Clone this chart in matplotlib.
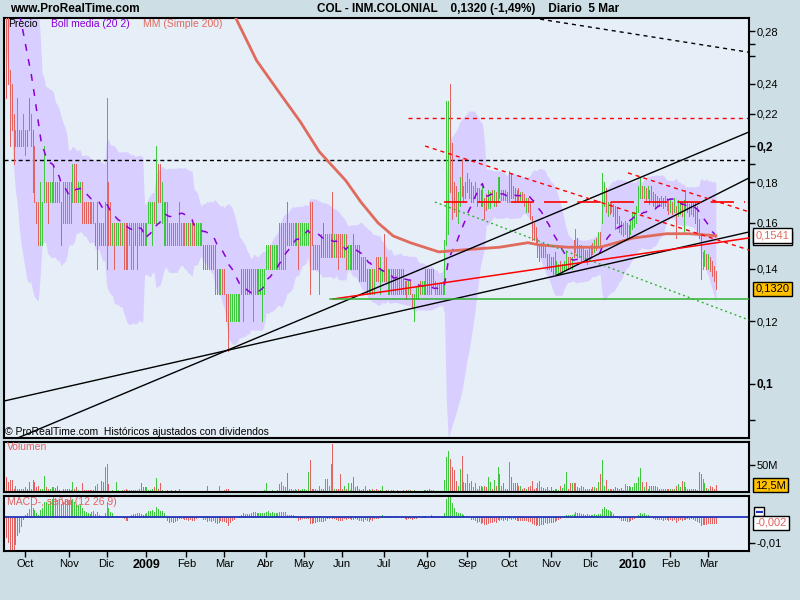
import numpy as np
import pandas as pd
import matplotlib
matplotlib.use('Agg')
import matplotlib.pyplot as plt
from matplotlib.ticker import NullFormatter

plt.rcParams['font.family'] = ['Liberation Sans', 'DejaVu Sans']

# trading calendar of the daily bars
holidays = ['2008-12-25', '2008-12-26', '2009-01-01', '2009-04-10', '2009-04-13',
            '2009-05-01', '2009-12-25', '2010-01-01']
dates = pd.bdate_range('2008-09-17', '2010-03-05', freq='C', holidays=holidays)

lows = [
    0.23, 0.24, 0.20, 0.21, 0.19, 0.20, 0.20, 0.20, 0.20, 0.20,  # sep
    0.195, 0.20, 0.21, 0.20, 0.175, 0.17, 0.16, 0.15, 0.15, 0.15, 0.17, 0.17, 0.16, 0.17, 0.17, 0.17, 0.17, 0.17, 0.17, 0.15, 0.16, 0.16, 0.16,
    0.16, 0.16, 0.17, 0.17, 0.17, 0.17, 0.17, 0.16, 0.16, 0.16, 0.16, 0.16, 0.16, 0.16, 0.15, 0.14, 0.15, 0.15, 0.15, 0.15,
    0.14, 0.15, 0.15, 0.15, 0.14, 0.15, 0.15, 0.15, 0.15, 0.14, 0.14, 0.14, 0.15, 0.14, 0.14, 0.15, 0.14, 0.15, 0.15, 0.15, 0.15,
    0.15, 0.16, 0.16, 0.15, 0.16, 0.16, 0.17, 0.17, 0.16, 0.15, 0.15, 0.15, 0.15, 0.15, 0.15, 0.15, 0.15, 0.15, 0.15, 0.15, 0.15,  # 2009
    0.15, 0.15, 0.15, 0.15, 0.15, 0.15, 0.15, 0.15, 0.15, 0.14, 0.14, 0.14, 0.14, 0.14, 0.14, 0.13, 0.13, 0.13, 0.13, 0.13,
    0.13, 0.12, 0.11, 0.12, 0.12, 0.12, 0.12, 0.12, 0.12, 0.13, 0.12, 0.13, 0.13, 0.13, 0.13, 0.12, 0.13, 0.13, 0.13, 0.13, 0.12, 0.13,
    0.14, 0.14, 0.14, 0.14, 0.14, 0.14, 0.14, 0.14, 0.14, 0.14, 0.14, 0.15, 0.15, 0.15, 0.15, 0.15, 0.15, 0.14, 0.15, 0.15,
    0.15, 0.15, 0.15, 0.13, 0.15, 0.14, 0.14, 0.14, 0.13, 0.145, 0.145, 0.145, 0.145, 0.145, 0.145, 0.145, 0.145, 0.145, 0.14, 0.145,
    0.145, 0.145, 0.14, 0.14, 0.14, 0.14, 0.14, 0.14, 0.14, 0.135, 0.135, 0.135, 0.135, 0.13, 0.13, 0.13, 0.13, 0.13, 0.135, 0.135, 0.13, 0.135,
    0.135, 0.135, 0.13, 0.13, 0.13, 0.13, 0.13, 0.13, 0.13, 0.13, 0.13, 0.13, 0.128, 0.13, 0.13, 0.125, 0.12, 0.128, 0.128, 0.13, 0.13, 0.13, 0.13,
    0.13, 0.13, 0.13, 0.133, 0.13, 0.13, 0.13, 0.13, 0.13, 0.13, 0.15, 0.155, 0.175, 0.162, 0.165, 0.163, 0.16, 0.168, 0.173, 0.17, 0.172,
    0.175, 0.172, 0.17, 0.17, 0.172, 0.168, 0.17, 0.168, 0.168, 0.162, 0.166, 0.167, 0.167, 0.17, 0.168, 0.168, 0.17, 0.172, 0.171, 0.171, 0.171, 0.17,
    0.17, 0.172, 0.172, 0.17, 0.171, 0.17, 0.171, 0.17, 0.168, 0.165, 0.165, 0.162, 0.152, 0.152, 0.151, 0.145, 0.143, 0.145, 0.145, 0.145, 0.14, 0.14,
    0.139, 0.138, 0.138, 0.138, 0.138, 0.139, 0.138, 0.139, 0.14, 0.14, 0.141, 0.14, 0.145, 0.147, 0.145, 0.145, 0.143, 0.144, 0.143, 0.142, 0.143,
    0.145, 0.146, 0.147, 0.148, 0.15, 0.15, 0.16, 0.168, 0.165, 0.163, 0.164, 0.165, 0.163, 0.157, 0.16, 0.156, 0.155, 0.154, 0.155, 0.153, 0.153, 0.155,
    0.157, 0.158, 0.16, 0.165, 0.172, 0.172, 0.172, 0.171, 0.172, 0.169, 0.171, 0.168, 0.167, 0.168, 0.168, 0.168, 0.167, 0.168, 0.166, 0.164,  # 2010
    0.165, 0.164, 0.165, 0.153, 0.163, 0.164, 0.163, 0.155, 0.166, 0.165, 0.163, 0.164, 0.163, 0.16, 0.155, 0.153, 0.136, 0.14, 0.141, 0.14,
    0.14, 0.139, 0.137, 0.135, 0.132,
]

highs = [
    0.31, 0.30, 0.25, 0.24, 0.22, 0.21, 0.23, 0.21, 0.21, 0.22,
    0.21, 0.21, 0.23, 0.22, 0.21, 0.20, 0.17, 0.17, 0.18, 0.17, 0.20, 0.18, 0.18, 0.18, 0.18, 0.19, 0.18, 0.18, 0.18, 0.17, 0.18, 0.18, 0.18,
    0.18, 0.18, 0.19, 0.19, 0.19, 0.18, 0.18, 0.18, 0.17, 0.17, 0.17, 0.17, 0.17, 0.17, 0.16, 0.17, 0.16, 0.16, 0.16, 0.17,
    0.23, 0.18, 0.17, 0.16, 0.16, 0.16, 0.16, 0.16, 0.16, 0.16, 0.16, 0.16, 0.16, 0.16, 0.16, 0.16, 0.16, 0.16, 0.16, 0.16, 0.16,
    0.16, 0.17, 0.17, 0.17, 0.17, 0.20, 0.19, 0.19, 0.18, 0.17, 0.17, 0.17, 0.16, 0.16, 0.16, 0.16, 0.16, 0.17, 0.16, 0.16, 0.16,
    0.16, 0.16, 0.16, 0.16, 0.16, 0.16, 0.16, 0.16, 0.16, 0.15, 0.15, 0.15, 0.15, 0.15, 0.15, 0.15, 0.14, 0.14, 0.14, 0.14,
    0.14, 0.13, 0.13, 0.13, 0.13, 0.13, 0.13, 0.13, 0.13, 0.14, 0.14, 0.14, 0.14, 0.14, 0.14, 0.14, 0.14, 0.14, 0.14, 0.14, 0.14, 0.14,
    0.15, 0.15, 0.15, 0.15, 0.15, 0.15, 0.15, 0.16, 0.16, 0.16, 0.16, 0.17, 0.16, 0.16, 0.16, 0.16, 0.16, 0.16, 0.16, 0.16,
    0.16, 0.16, 0.16, 0.17, 0.17, 0.15, 0.15, 0.15, 0.15, 0.155, 0.16, 0.155, 0.155, 0.155, 0.155, 0.175, 0.155, 0.155, 0.155, 0.155,
    0.155, 0.155, 0.155, 0.15, 0.15, 0.15, 0.155, 0.15, 0.15, 0.15, 0.145, 0.145, 0.145, 0.14, 0.14, 0.14, 0.14, 0.14, 0.145, 0.145, 0.145, 0.14,
    0.155, 0.145, 0.14, 0.14, 0.14, 0.14, 0.14, 0.14, 0.14, 0.14, 0.14, 0.135, 0.135, 0.135, 0.135, 0.13, 0.13, 0.133, 0.133, 0.135, 0.135, 0.135, 0.14,
    0.14, 0.14, 0.14, 0.14, 0.135, 0.134, 0.134, 0.134, 0.135, 0.152, 0.228, 0.228, 0.24, 0.202, 0.18, 0.178, 0.175, 0.183, 0.193, 0.178, 0.18,
    0.185, 0.182, 0.18, 0.178, 0.18, 0.177, 0.177, 0.176, 0.178, 0.172, 0.174, 0.176, 0.175, 0.176, 0.176, 0.175, 0.183, 0.183, 0.176, 0.176, 0.176, 0.175,
    0.186, 0.185, 0.178, 0.177, 0.176, 0.177, 0.175, 0.175, 0.174, 0.172, 0.172, 0.17, 0.163, 0.16, 0.158, 0.153, 0.15, 0.151, 0.151, 0.15, 0.146, 0.146,
    0.145, 0.145, 0.147, 0.143, 0.142, 0.143, 0.142, 0.143, 0.147, 0.145, 0.145, 0.145, 0.152, 0.157, 0.153, 0.15, 0.15, 0.149, 0.148, 0.148, 0.149,
    0.15, 0.151, 0.152, 0.153, 0.156, 0.156, 0.185, 0.18, 0.177, 0.17, 0.17, 0.17, 0.169, 0.168, 0.167, 0.163, 0.161, 0.16, 0.161, 0.16, 0.159, 0.161,
    0.165, 0.165, 0.168, 0.178, 0.183, 0.178, 0.178, 0.177, 0.178, 0.176, 0.178, 0.175, 0.174, 0.173, 0.172, 0.173, 0.172, 0.173, 0.172, 0.171,
    0.172, 0.17, 0.172, 0.168, 0.171, 0.17, 0.17, 0.171, 0.176, 0.17, 0.169, 0.17, 0.17, 0.17, 0.168, 0.162, 0.155, 0.147, 0.148, 0.146,
    0.146, 0.145, 0.143, 0.141, 0.139,
]

# g = session closed up, r = closed down
direction = (
    "rrrrrggrgg"
    "grrgrrrrgggrrgggrrgrggg"
    "gggrrggrrrrrggrgrrrg"
    "grrgrggrgrrrgggrggrrg"
    "ggggrgrrggrrrgrgggggr"
    "grgrrggggrgrgrgrrggr"
    "rrrggggggrgrrrgggrgggg"
    "ggrggggggggrgggggrgg"
    "gggrrggggrrggggrgrrr"
    "rgrggrrgrrrrgrrgrgrrgg"
    "rrgrgrggrgrrrgrrgggrggr"
    "rrgrggrgggggrrrrggrgr"
    "ggrggrgrgrrggrgrgrgrgr"
    "grgrrrgrrgrrrrrgrgrgrg"
    "rrrggrgggrrgrgrrrgrgr"
    "grgrgrggrgrgrrgrrggrrg"
    "gggggrgrgrrrrgrgrggr"
    "grgrggrgrgrgrrrrrggr"
    "grrrr"
)

# volume in millions of shares
volume = [
    28, 19, 22, 22, 6, 12, 6, 5, 5, 6,
    9, 6, 19, 6, 22, 19, 9, 11, 6, 6, 30, 9, 6, 6, 9, 9, 7, 12, 3, 2, 6, 6, 6,
    6, 3, 19, 5, 9, 3, 2, 16, 3, 3, 3, 3, 3, 3, 12, 14, 2, 20, 19, 47,
    52, 14, 2, 3, 2, 19, 3, 2, 3, 4, 5, 4, 3, 3, 3, 3, 3, 6, 16, 9, 9,
    9, 3, 3, 6, 9, 26, 6, 17, 3, 2, 2, 3, 2, 3, 2, 3, 2, 6, 2, 1, 2,
    2, 1, 2, 1, 2, 2, 1, 2, 2, 1, 2, 11, 2, 1, 2, 1, 2, 11, 2, 2,
    3, 5, 6, 2, 2, 1, 2, 2, 1, 2, 2, 1, 2, 2, 1, 2, 2, 1, 2, 2, 2, 3,
    17, 2, 2, 3, 2, 2, 3, 14, 19, 12, 9, 36, 6, 6, 4, 6, 3, 5, 3, 6,
    6, 3, 37, 60, 6, 6, 5, 3, 12, 6, 6, 25, 24, 11, 52, 89, 6, 5, 6, 33,
    6, 12, 6, 16, 3, 16, 27, 9, 11, 5, 3, 5, 12, 3, 5, 3, 5, 3, 5, 3, 4, 11,
    2, 4, 3, 2, 3, 3, 2, 3, 2, 2, 3, 2, 3, 3, 3, 2, 3, 2, 2, 2, 2, 3, 3,
    3, 5, 3, 3, 2, 2, 2, 2, 2, 23, 64, 76, 62, 47, 41, 21, 12, 42, 66, 18, 17,
    33, 16, 20, 9, 16, 6, 12, 12, 9, 12, 9, 27, 19, 6, 23, 11, 46, 34, 12, 16, 6, 6,
    55, 27, 17, 16, 17, 12, 12, 6, 7, 6, 9, 11, 20, 5, 8, 16, 20, 9, 7, 6, 9, 4,
    9, 4, 5, 6, 4, 11, 7, 14, 37, 6, 16, 17, 16, 17, 9, 7, 11, 9, 5, 6, 5,
    5, 9, 9, 7, 19, 34, 59, 11, 22, 6, 6, 6, 6, 9, 7, 5, 7, 4, 14, 12, 11, 9,
    9, 17, 16, 27, 45, 19, 9, 19, 6, 11, 11, 11, 11, 9, 6, 5, 5, 5, 6, 5,
    5, 5, 6, 12, 14, 9, 20, 19, 9, 6, 5, 6, 5, 5, 4, 37, 33, 24, 16, 7,
    6, 11, 9, 5, 12.5,
]

# closes of the weeks before the first bar, used to warm up the indicators
pre_closes = [0.50, 0.50, 0.49, 0.50, 0.49, 0.48, 0.49, 0.48, 0.47, 0.47,
              0.46, 0.45, 0.44, 0.43, 0.42, 0.41, 0.40, 0.39, 0.38, 0.37,
              0.37, 0.36, 0.36, 0.35, 0.35, 0.34, 0.34, 0.33, 0.33, 0.32]

# 200-session moving average, read at these bar numbers
ma200_bar = [100, 110, 121, 132, 144, 155, 165, 179, 187, 196, 204, 213,
             228, 243, 260, 275, 281, 296, 313, 330, 348, 360, 374]
ma200_val = [0.36, 0.320, 0.291, 0.257, 0.234, 0.215, 0.197, 0.181, 0.170, 0.160, 0.154, 0.151,
             0.147, 0.148, 0.149, 0.151, 0.150, 0.149, 0.149, 0.153, 0.155, 0.155, 0.1541]

# hand-drawn lines: (bar, price) end points
support_long = [(-1.3, 0.0951), (391.5, 0.1558)]
support_steep = [(0, 0.0842), (391.5, 0.2086)]
support_late = [(290.3, 0.1374), (391.5, 0.1824)]
black_top = [(281.4, 0.2899), (391.5, 0.2632)]
red_rising = [(172.3, 0.1281), (391.5, 0.1531)]
red_fall_a = [(220.8, 0.2002), (391.5, 0.1478)]
red_fall_b = [(327.7, 0.1851), (391.5, 0.1652)]
green_fall = [(226.0, 0.1700), (391.5, 0.1205)]
level_black = 0.1922
level_red_high = (211.8, 0.2171)
level_red_mid = (230.8, 389.4, 0.170)
level_green = (170.7, 0.1281)

price_ticks = [0.1, 0.12, 0.14, 0.16, 0.18, 0.2, 0.22, 0.24, 0.28]
price_minor = [0.09, 0.19, 0.26, 0.27]
month_abbr = ['', 'Ene', 'Feb', 'Mar', 'Abr', 'May', 'Jun', 'Jul', 'Ago', 'Sep', 'Oct', 'Nov', 'Dic']

GREEN = '#3fc83f'
RED = '#e26262'
BAND = '#d8ceff'
PURPLE = '#8a00d4'
MA_COL = '#e06a5c'
PANEL = '#e6eef8'
BG = '#cddfe5'

n = len(dates)
x = np.arange(n)
lows = np.array(lows)
highs = np.array(highs)
volume = np.array(volume, dtype=float)
up = np.array([c == 'g' for c in direction])
closes = np.where(up, highs, lows)

# indicators
full = pd.Series(np.concatenate([pre_closes, closes]))
k = len(pre_closes)
sma = full.rolling(20).mean().to_numpy()[k:]
sd = full.rolling(20).std(ddof=0).to_numpy()[k:]
upper, lower = sma + 2 * sd, sma - 2 * sd
macd = full.ewm(span=12, adjust=False).mean() - full.ewm(span=26, adjust=False).mean()
signal = macd.ewm(span=9, adjust=False).mean()
hist = (macd - signal).to_numpy()[k:]

fig = plt.figure(figsize=(8, 6), dpi=100, facecolor=BG)
W, H = 800, 600


def px_box(l, t, r, b):
    return [l / W, 1 - b / H, (r - l) / W, (b - t) / H]


ax = fig.add_axes(px_box(3.5, 17.5, 748.5, 438))
axv = fig.add_axes(px_box(3.5, 441.5, 748.5, 492))
axm = fig.add_axes(px_box(3.5, 495.5, 748.5, 551))
xlim = (-1.32, 391.2)

for a in (ax, axv, axm):
    a.set_facecolor(PANEL)
    for s in a.spines.values():
        s.set_linewidth(1.5)
        s.set_color('black')
    a.yaxis.tick_right()
    a.tick_params(axis='y', which='both', direction='out', length=4, width=1,
                  labelsize=8, pad=2, colors='black')
    a.set_xlim(*xlim)
for a in (ax, axv):
    a.tick_params(axis='x', bottom=False, labelbottom=False)

# price panel
ax.set_yscale('log')
ax.fill_between(x, lower, upper, color=BAND, lw=0, zorder=1)
ax.axhline(level_black, color='black', lw=1, dashes=(2.9, 2.2), zorder=2)
ax.plot([level_red_high[0], 395], [level_red_high[1]] * 2, color='red', lw=1, dashes=(2.9, 2.9), zorder=2)
ax.vlines(x[up], lows[up], highs[up], color=GREEN, lw=0.72, antialiased=False, zorder=3)
ax.vlines(x[~up], lows[~up], highs[~up], color=RED, lw=0.72, antialiased=False, zorder=3)
ax.plot(x, sma, color=PURPLE, lw=1.1, dashes=(4.5, 5.5), zorder=4)
ax.plot(ma200_bar, ma200_val, color=MA_COL, lw=2.0, zorder=4, solid_joinstyle='round')

for seg in (support_long, support_steep, support_late):
    ax.plot(*zip(*seg), color='black', lw=1, zorder=5)
ax.plot(*zip(*black_top), color='black', lw=1, dashes=(2.9, 2.9), zorder=5)
ax.plot(*zip(*red_rising), color='red', lw=1.1, zorder=5)
for seg in (red_fall_a, red_fall_b):
    ax.plot(*zip(*seg), color='red', lw=1, dashes=(2.9, 2.9), zorder=5)
ax.plot(*zip(*green_fall), color='#30b030', lw=1, dashes=(1.4, 2.2), zorder=5)
ax.plot(level_red_mid[:2], [level_red_mid[2]] * 2, color='red', lw=1.2, dashes=(14, 6), zorder=5)
ax.plot([level_green[0], 395], [level_green[1]] * 2, color='#30b030', lw=1.1, zorder=5)

ax.set_ylim(0.0854, 0.2913)
ax.set_yticks(price_ticks, labels=[f'{t:g}'.replace('.', ',') for t in price_ticks])
ax.set_yticks(price_minor, minor=True)
ax.yaxis.set_minor_formatter(NullFormatter())
for t in ax.get_yticklabels():
    if t.get_text() in ('0,2', '0,1'):
        t.set_fontweight('bold')
        t.set_fontsize(8.5)


def value_box(a, y, text, fc, tc, z=6, size=8):
    a.text(1 + 7 / 745, y, text, transform=a.get_yaxis_transform(), ha='left', va='center',
           fontsize=size, color=tc, zorder=z,
           bbox=dict(boxstyle='square,pad=0.2', fc=fc, ec='black', lw=1))


# the moving-average tag sits partly under the MA200 tag
value_box(ax, sma[-1], f'{sma[-1]:.4f}'.replace('.', ','), 'white', PURPLE, z=6)
value_box(ax, ma200_val[-1], f'{ma200_val[-1]:.4f}'.replace('.', ','), 'white', MA_COL, z=7)
value_box(ax, closes[-1], f'{closes[-1]:.4f}'.replace('.', ','), '#ffc000', 'black')

# volume panel
vcol = np.where(up, GREEN, RED)
axv.vlines(x, 0, volume, colors=vcol, lw=0.72, antialiased=False)
axv.set_ylim(0, 93.6)
axv.set_yticks([50], labels=['50M'])
value_box(axv, volume[-1], f'{volume[-1]:.1f}M'.replace('.', ','), '#ffc000', 'black')

# MACD panel
hcol = np.where(hist >= 0, GREEN, RED)
axm.vlines(x, 0, hist, colors=hcol, lw=0.72, antialiased=False)
axm.axhline(0, color='#2233bb', lw=1.3)
axm.set_ylim(-0.01327, 0.00866)
axm.set_yticks([-0.01], labels=['-0,01'])
value_box(axm, 0.0023, '▬', 'white', '#2233bb', z=5, size=5)
value_box(axm, hist[-1], f'{hist[-1]:.3f}'.replace('.', ','), 'white', RED, z=6)

month_pos = [i for i in range(1, n) if dates[i].month != dates[i - 1].month]
month_lab = [str(dates[i].year) if dates[i].month == 1 else month_abbr[dates[i].month] for i in month_pos]
axm.set_xticks(month_pos, labels=month_lab)
axm.tick_params(axis='x', direction='out', length=4, width=1, labelsize=8, pad=1.5)
for t in axm.get_xticklabels():
    if t.get_text().isdigit():
        t.set_fontweight('bold')
        t.set_fontsize(9)
for a in (ax, axv, axm):
    a.set_xlim(*xlim)

# header and captions
fig.text(10 / W, 1 - 9 / H, 'www.ProRealTime.com', fontsize=8.5, fontweight='bold', va='center')
fig.text(317 / W, 1 - 9 / H, 'COL - INM.COLONIAL    0,1320 (-1,49%)    Diario  5 Mar',
         fontsize=8.5, fontweight='bold', va='center')
fig.text(8 / W, 1 - 24 / H, 'Precio', fontsize=7.5, va='center')
fig.text(51 / W, 1 - 24 / H, 'Boll media (20 2)', fontsize=7.5, va='center', color=PURPLE)
fig.text(143 / W, 1 - 24 / H, 'MM (Simple 200)', fontsize=7.5, va='center', color=MA_COL)
fig.text(5 / W, 1 - 432 / H, '© ProRealTime.com  Históricos ajustados con dividendos', fontsize=7.5, va='center')
fig.text(7 / W, 1 - 447 / H, 'Volumen', fontsize=7.5, va='center', color=RED)
fig.text(7 / W, 1 - 502 / H, 'MACD-, señal (12 26 9)', fontsize=7.5, va='center', color=RED)

fig.savefig('out.png', dpi=100, facecolor=fig.get_facecolor())
